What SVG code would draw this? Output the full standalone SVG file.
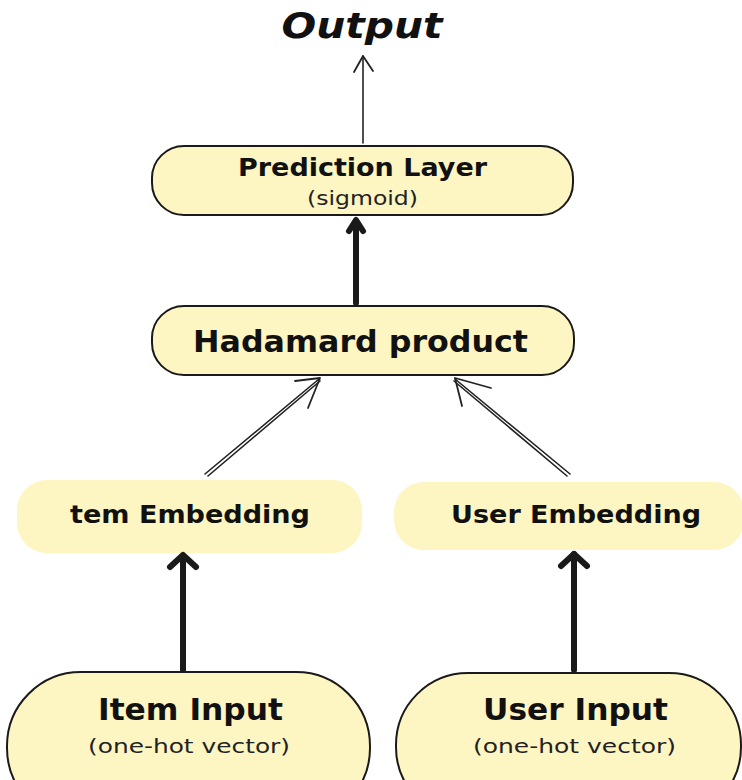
<svg xmlns="http://www.w3.org/2000/svg" width="742" height="780" viewBox="0 0 742 780">
  <style>
    .box { fill: #fdf5c2; stroke: #1a1a1a; stroke-width: 2; }
    .soft { fill: #fdf5c2; stroke: none; }
    .title { font-family: "DejaVu Sans", "Liberation Sans", sans-serif; font-weight: 700; fill: #111; text-anchor: middle; }
    .sub { font-family: "DejaVu Sans", "Liberation Sans", sans-serif; font-weight: 400; fill: #222; text-anchor: middle; }
    .thin { stroke: #222; stroke-width: 1.6; fill: none; stroke-linecap: round; }
    .thick { stroke: #1a1a1a; stroke-width: 6; fill: none; stroke-linecap: round; stroke-linejoin: round; }
    .head { stroke: #222; stroke-width: 1.8; fill: none; stroke-linecap: round; stroke-linejoin: round; }
  </style>

  <text class="title" x="362" y="38" font-size="35" font-style="italic" textLength="161" lengthAdjust="spacingAndGlyphs">Output</text>

  <g id="prediction">
    <rect class="box" x="152" y="146" width="421" height="69" rx="32"/>
    <text class="title" x="362.5" y="176" font-size="24" textLength="249" lengthAdjust="spacingAndGlyphs">Prediction Layer</text>
    <text class="sub" x="362.5" y="205" font-size="19" textLength="111" lengthAdjust="spacingAndGlyphs">(sigmoid)</text>
  </g>

  <g id="hadamard">
    <rect class="box" x="152" y="306" width="422" height="69" rx="32"/>
    <text class="title" x="360.5" y="352" font-size="30" textLength="335" lengthAdjust="spacingAndGlyphs">Hadamard product</text>
  </g>

  <g id="item-embedding">
    <rect class="soft" x="17" y="480" width="345" height="73" rx="30"/>
    <text class="title" x="190" y="523" font-size="24" textLength="240" lengthAdjust="spacingAndGlyphs">tem Embedding</text>
  </g>

  <g id="user-embedding">
    <rect class="soft" x="394" y="482" width="350" height="68" rx="30"/>
    <text class="title" x="576" y="523" font-size="24" textLength="250" lengthAdjust="spacingAndGlyphs">User Embedding</text>
  </g>

  <g id="item-input">
    <rect class="box" x="7" y="672" width="363" height="150" rx="74" stroke-width="2.6"/>
    <text class="title" x="190.5" y="720" font-size="30" textLength="185" lengthAdjust="spacingAndGlyphs">Item Input</text>
    <text class="sub" x="189" y="753" font-size="20" textLength="202" lengthAdjust="spacingAndGlyphs">(one-hot vector)</text>
  </g>

  <g id="user-input">
    <rect class="box" x="396" y="673" width="345" height="146" rx="72" stroke-width="2.6"/>
    <text class="title" x="575.5" y="720" font-size="30" textLength="185" lengthAdjust="spacingAndGlyphs">User Input</text>
    <text class="sub" x="574.5" y="753" font-size="20" textLength="203" lengthAdjust="spacingAndGlyphs">(one-hot vector)</text>
  </g>

  <g id="connectors">
    <!-- prediction to output -->
    <path class="thin" d="M363 143 L363 56"/>
    <path class="head" d="M354 72 L363 56 L373 71"/>
    <!-- hadamard to prediction -->
    <path class="thick" d="M356 303 L356 222"/>
    <path class="thick" d="M349 231 L356 220 L363 231"/>
    <!-- embeddings to hadamard -->
    <path class="thin" d="M205 474 L319 379"/>
    <path class="thin" d="M208 476 L320 381"/>
    <path class="head" d="M295 381 L320 378 L308 408"/>
    <path class="thin" d="M570 474 L455 379"/>
    <path class="thin" d="M567 476 L454 381"/>
    <path class="head" d="M491 388 L455 378 L462 406"/>
    <!-- inputs to embeddings -->
    <path class="thick" d="M183 670 L183 557"/>
    <path class="thick" d="M170 567 L183 555 L196 567"/>
    <path class="thick" d="M574 670 L574 554"/>
    <path class="thick" d="M561 566 L574 554 L587 566"/>
  </g>
</svg>
